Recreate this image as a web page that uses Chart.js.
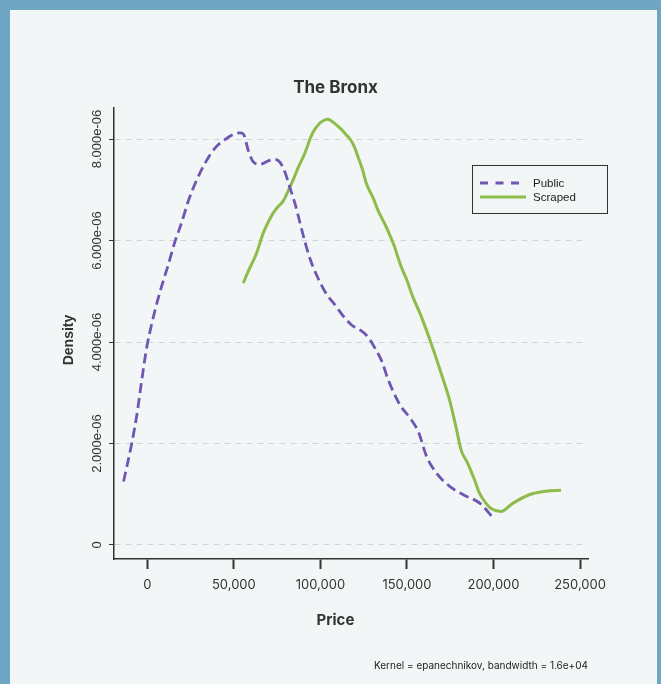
<!DOCTYPE html>
<html>
<head>
<meta charset="utf-8">
<script src="https://cdn.jsdelivr.net/npm/chart.js@4.4.0/dist/chart.umd.min.js"></script>
<style>
    html, body { margin: 0; padding: 0; }
    body { background: #6fa6c4; width: 661px; height: 684px; overflow: hidden; }
    #panel { position: absolute; left: 10px; top: 10px; width: 647px; height: 674px; background: #f2f6f7; }
</style>
</head>
<body>
<div id="panel"><canvas id="bronxChart" width="647" height="674"></canvas></div>
<script>
/* ========================================
   THE BRONX - PRICE DENSITY (KDE)
   ======================================== */

// Public listings
const PUBLIC_PRICE = [-13700, -9000, -6100, -3200, -300, 2500, 5400, 8300, 12100, 16000,
    19900, 23700, 28500, 33300, 39100, 45800, 50500, 53500, 55500, 58300,
    61200, 65100, 69900, 73800, 76700, 79600, 82400, 85300, 88200, 91100,
    93900, 97800, 102700, 108400, 114200, 118200, 122800, 127500, 131500, 135600,
    139000, 146000, 151800, 156600, 161400, 167200, 174900, 182600, 192200, 199900];
const PUBLIC_DENSITY = [1.25e-6, 2.0e-6, 2.55e-6, 3.25e-6, 3.9e-6, 4.35e-6, 4.75e-6, 5.1e-6, 5.52e-6, 5.98e-6,
    6.36e-6, 6.78e-6, 7.19e-6, 7.52e-6, 7.82e-6, 8.01e-6, 8.10e-6, 8.12e-6, 8.10e-6, 7.78e-6,
    7.55e-6, 7.50e-6, 7.57e-6, 7.60e-6, 7.54e-6, 7.34e-6, 7.04e-6, 6.73e-6, 6.35e-6, 5.97e-6,
    5.65e-6, 5.32e-6, 4.99e-6, 4.73e-6, 4.47e-6, 4.33e-6, 4.24e-6, 4.10e-6, 3.88e-6, 3.61e-6,
    3.27e-6, 2.76e-6, 2.5e-6, 2.23e-6, 1.74e-6, 1.41e-6, 1.15e-6, 0.99e-6, 0.82e-6, 0.53e-6];

// Scraped listings
const SCRAPED_PRICE = [55400, 58300, 63100, 66900, 70400, 72700, 75600, 78400, 81300, 84200,
    87100, 91000, 94000, 95800, 99600, 101600, 104400, 107300, 109200, 112100,
    114700, 116900, 119600, 121700, 124400, 126500, 130600, 133200, 138000, 142800,
    144700, 146700, 149600, 153400, 158300, 164000, 169800, 174600, 178700, 181300,
    185100, 189100, 191900, 195700, 198600, 204400, 211100, 220700, 230300, 239000];
const SCRAPED_DENSITY = [5.16e-6, 5.39e-6, 5.75e-6, 6.14e-6, 6.40e-6, 6.54e-6, 6.67e-6, 6.77e-6, 6.97e-6, 7.19e-6,
    7.43e-6, 7.72e-6, 8.0e-6, 8.14e-6, 8.31e-6, 8.36e-6, 8.39e-6, 8.33e-6, 8.28e-6, 8.19e-6,
    8.09e-6, 8.01e-6, 7.85e-6, 7.65e-6, 7.39e-6, 7.13e-6, 6.83e-6, 6.60e-6, 6.27e-6, 5.88e-6,
    5.68e-6, 5.48e-6, 5.25e-6, 4.89e-6, 4.50e-6, 3.97e-6, 3.38e-6, 2.86e-6, 2.27e-6, 1.87e-6,
    1.61e-6, 1.28e-6, 1.02e-6, 0.82e-6, 0.72e-6, 0.66e-6, 0.82e-6, 0.99e-6, 1.06e-6, 1.08e-6];

const X_TICKS = [0, 50000, 100000, 150000, 200000, 250000];
const X_TICK_LABELS = ['0', '50,000', '100,000', '150,000', '200,000', '250,000'];
const Y_TICKS = [0, 2e-6, 4e-6, 6e-6, 8e-6];
const Y_TICK_LABELS = ['0', '2.000e-06', '4.000e-06', '6.000e-06', '8.000e-06'];

const TITLE = 'The Bronx';
const X_TITLE = 'Price';
const Y_TITLE = 'Density';
const CAPTION = 'Kernel = epanechnikov, bandwidth = 1.6e+04';

const INK = '#333333';

function toPoints(xs, ys) {
    return xs.map((x, i) => ({ x: x, y: ys[i] }));
}

// Titles, caption and the boxed legend drawn like base R graphics
const decorPlugin = {
    id: 'decor',
    afterDraw(chart) {
        const { ctx, chartArea } = chart;
        ctx.save();
        ctx.fillStyle = INK;
        ctx.textAlign = 'center';
        ctx.textBaseline = 'middle';

        ctx.font = "bold 17px 'Inter', sans-serif";
        ctx.fillText(TITLE, 325.5, 78);

        ctx.font = "bold 15px 'Inter', sans-serif";
        ctx.fillText(X_TITLE, 325.5, 610.5);

        ctx.save();
        ctx.translate(59, 330);
        ctx.rotate(-Math.PI / 2);
        ctx.font = "bold 14px 'Liberation Sans', Arial, sans-serif";
        ctx.fillText(Y_TITLE, 0, 0);
        ctx.restore();

        ctx.font = "10px 'Inter', sans-serif";
        ctx.textAlign = 'right';
        ctx.textBaseline = 'alphabetic';
        ctx.fillStyle = '#222';
        ctx.fillText(CAPTION, chartArea.right, 659);

        // legend box
        const lx = 462.5, ly = 155.5, lw = 135, lh = 48;
        ctx.strokeStyle = INK;
        ctx.lineWidth = 1;
        ctx.setLineDash([]);
        ctx.strokeRect(lx, ly, lw, lh);

        ctx.font = "11.5px 'Liberation Sans', Arial, sans-serif";
        ctx.textAlign = 'left';
        ctx.textBaseline = 'middle';
        chart.data.datasets.forEach((ds, i) => {
            const y = 173 + i * 14;
            ctx.strokeStyle = ds.borderColor;
            ctx.lineWidth = ds.borderWidth;
            ctx.setLineDash(ds.borderDash ? [8, 7.5] : []);
            ctx.beginPath();
            ctx.moveTo(470, y);
            ctx.lineTo(516, y);
            ctx.stroke();
            ctx.setLineDash([]);
            ctx.fillStyle = '#222';
            ctx.fillText(ds.label, 523, y + 0.5);
        });
        ctx.restore();
    }
};

const ctx = document.getElementById('bronxChart');

new Chart(ctx, {
    type: 'line',
    data: {
        datasets: [{
            label: 'Public',
            data: toPoints(PUBLIC_PRICE, PUBLIC_DENSITY),
            borderColor: '#6f56b2',
            borderWidth: 2.8,
            borderDash: [10, 5],
            cubicInterpolationMode: 'monotone',
            pointRadius: 0,
            fill: false
        }, {
            label: 'Scraped',
            data: toPoints(SCRAPED_PRICE, SCRAPED_DENSITY),
            borderColor: '#8cbd4b',
            borderWidth: 3,
            cubicInterpolationMode: 'monotone',
            pointRadius: 0,
            fill: false
        }]
    },
    options: {
        responsive: false,
        animation: false,
        devicePixelRatio: 1,
        layout: { padding: { left: 0, top: 98, right: 69, bottom: 0 } },
        plugins: {
            legend: { display: false },
            title: { display: false },
            tooltip: { enabled: false }
        },
        scales: {
            x: {
                type: 'linear',
                min: -19240,
                max: 254600,
                afterBuildTicks: (scale) => { scale.ticks = X_TICKS.map(v => ({ value: v })); },
                afterFit: (scale) => { scale.height = 125; },
                grid: {
                    drawOnChartArea: false,
                    drawTicks: true,
                    tickLength: 10,
                    tickWidth: 2,
                    tickColor: INK
                },
                border: { display: true, color: INK, width: 1.5 },
                ticks: {
                    autoSkip: false,
                    maxRotation: 0,
                    padding: 8,
                    color: INK,
                    font: { family: "'Inter', sans-serif", size: 13 },
                    callback: (value, index) => X_TICK_LABELS[index]
                }
            },
            y: {
                type: 'linear',
                min: -2.76e-7,
                max: 8.611e-6,
                afterBuildTicks: (scale) => { scale.ticks = Y_TICKS.map(v => ({ value: v })); },
                afterFit: (scale) => { scale.width = 104; },
                grid: {
                    color: '#d2d4d5',
                    lineWidth: 1,
                    drawTicks: true,
                    tickLength: 5,
                    tickWidth: 1,
                    tickColor: INK,
                    tickBorderDash: []
                },
                border: { display: true, color: INK, width: 1.5, dash: [6, 5] },
                ticks: {
                    minRotation: 90,
                    maxRotation: 90,
                    crossAlign: 'center',
                    padding: -18,
                    color: INK,
                    font: { family: "'Liberation Sans', Arial, sans-serif", size: 13 },
                    callback: (value, index) => Y_TICK_LABELS[index]
                }
            }
        }
    },
    plugins: [decorPlugin]
});
</script>
</body>
</html>
